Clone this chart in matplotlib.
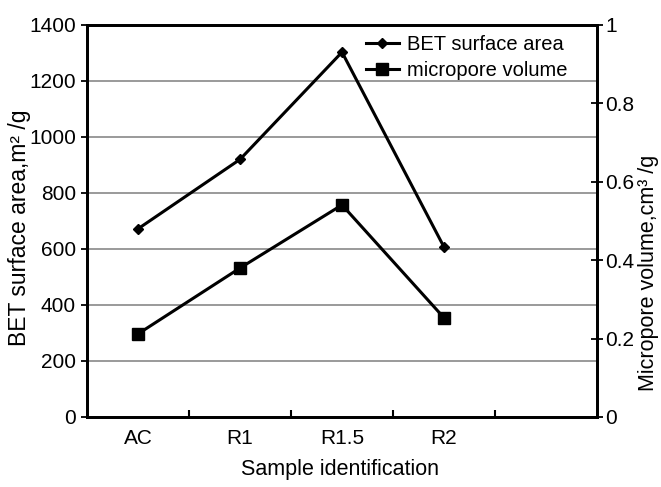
import numpy as np
import matplotlib.pyplot as plt

plt.rcParams['font.family'] = ['Liberation Sans', 'DejaVu Sans']

samples = ["AC", "R1", "R1.5", "R2"]
bet_area = [672, 920, 1303, 607]
micro_vol = [0.212, 0.380, 0.541, 0.253]

x = np.arange(len(samples))

fig = plt.figure(figsize=(6.61, 4.87), dpi=100)
ax = fig.add_axes([87 / 661, 70 / 487, 510 / 661, 392 / 487])
ax2 = ax.twinx()

l1, = ax.plot(x, bet_area, color='black', lw=2.2, marker='D', ms=5, label='BET surface area')
l2, = ax2.plot(x, micro_vol, color='black', lw=2.2, marker='s', ms=8, label='micropore volume')

ax.set_xlim(-0.5, 4.5)
ax.set_ylim(0, 1400)
ax.set_yticks(np.arange(0, 1401, 200))
ax2.set_ylim(0, 1)
ax2.set_yticks([0, 0.2, 0.4, 0.6, 0.8, 1])
ax2.set_yticklabels(['0', '0.2', '0.4', '0.6', '0.8', '1'])

# category labels centred, tick marks between categories
ax.set_xticks(x)
ax.set_xticklabels(samples)
ax.set_xticks(np.arange(0.5, 4, 1), minor=True)
ax.tick_params(axis='x', which='major', length=0, labelsize=15, pad=9)
ax.tick_params(axis='x', which='minor', direction='in', length=5, width=1.5)

for g in np.arange(200, 1400, 200):
    ax.axhline(g, color='#9a9a9a', lw=1.4, zorder=0)

ax.tick_params(axis='y', direction='out', length=4, width=1.3, labelsize=15, pad=4)
ax2.tick_params(axis='y', direction='inout', length=8, width=1.3, labelsize=15, pad=2)

for a in (ax, ax2):
    for s in a.spines.values():
        s.set_linewidth(2)

ax.set_xlabel('Sample identification', fontsize=15.5)
ax.xaxis.set_label_coords(0.496, -0.108)
ax.set_ylabel('BET surface area,m² /g', fontsize=16.5)
ax.yaxis.set_label_coords(-0.11, 0.482)
ax2.set_ylabel('Micropore volume,cm³ /g', fontsize=15.5)
ax2.yaxis.set_label_coords(1.081, 0.367)

ax.legend([l1, l2], ['BET surface area', 'micropore volume'], loc='upper right',
          frameon=False, fontsize=14.5, handlelength=1.6, handletextpad=0.4,
          borderaxespad=0.2, labelspacing=0.35, bbox_to_anchor=(0.965, 1.005))

fig.savefig('out.png', dpi=100)
